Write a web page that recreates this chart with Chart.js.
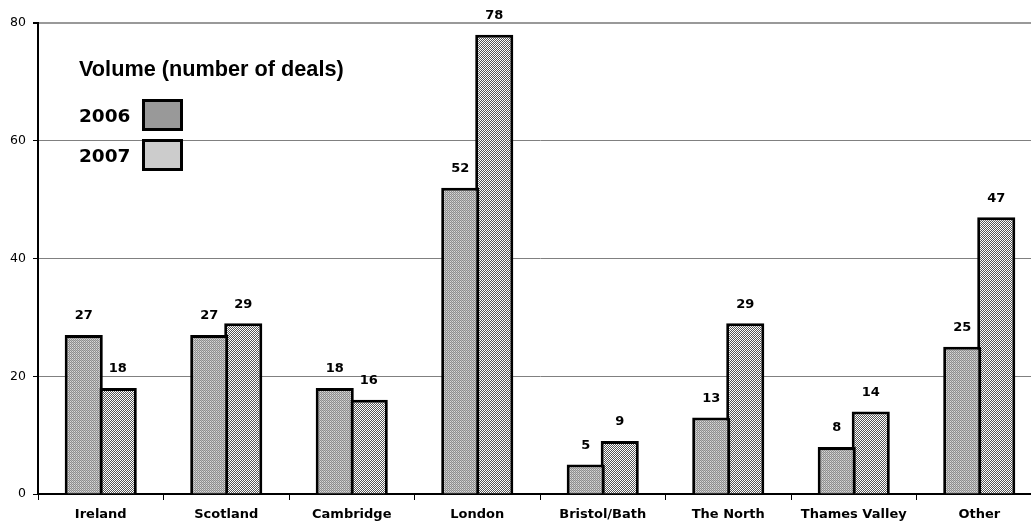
<!DOCTYPE html>
<html>
<head>
<meta charset="utf-8">
<script src="https://cdn.jsdelivr.net/npm/chart.js@4.4.0/dist/chart.umd.min.js"></script>
<style>
  html, body { margin: 0; padding: 0; background: #fff; overflow: hidden; }
  #wrap { position: relative; width: 1042px; height: 525px; }
  #legend { position: absolute; left: 79px; top: 52px; font-weight: bold; color: #000; }
  #legend .title { font-family: "Liberation Sans", Arial, sans-serif; font-size: 21.7px; white-space: nowrap; line-height: 34px; }
  #legend .row { position: absolute; left: 0; height: 32px; display: flex; align-items: center; font-family: "DejaVu Sans", Verdana, sans-serif; }
  #legend .row span { font-size: 18.5px; width: 63px; }
  #legend .sw { width: 35px; height: 26px; border: 3px solid #000; }
</style>
</head>
<body>
<div id="wrap">
  <canvas id="c" width="1042" height="525"></canvas>
  <div id="legend">
    <div class="title">Volume (number of deals)</div>
    <div class="row" style="top:47px"><span>2006</span><div class="sw" style="background:#999999"></div></div>
    <div class="row" style="top:87px"><span>2007</span><div class="sw" style="background:#cccccc"></div></div>
  </div>
</div>
<script>
const categories = ["Ireland", "Scotland", "Cambridge", "London", "Bristol/Bath", "The North", "Thames Valley", "Other"];
const deals2006 = [27, 27, 18, 52, 5, 13, 8, 25];
const deals2007 = [18, 29, 16, 78, 9, 29, 14, 47];
const yTicks = [0, 20, 40, 60, 80];

// fine grey dot texture
function dotPattern(ctx) {
  const t = document.createElement('canvas');
  t.width = 2; t.height = 2;
  const g = t.getContext('2d');
  g.fillStyle = '#dadada'; g.fillRect(0, 0, 2, 2);
  g.fillStyle = '#8e8e8e'; g.fillRect(0, 0, 1, 1); g.fillRect(1, 1, 1, 1);
  g.fillStyle = '#b8b8b8'; g.fillRect(1, 0, 1, 1);
  return ctx.createPattern(t, 'repeat');
}
// upward diagonal hatch
function hatchPattern(ctx) {
  const t = document.createElement('canvas');
  t.width = 4; t.height = 4;
  const g = t.getContext('2d');
  g.fillStyle = '#ffffff'; g.fillRect(0, 0, 4, 4);
  g.fillStyle = '#555555';
  for (let i = 0; i < 4; i++) { g.fillRect(3 - i, i, 1, 1); g.fillRect((5 - i) % 4, i, 1, 1); }
  return ctx.createPattern(t, 'repeat');
}

const canvas = document.getElementById('c');
const ctx = canvas.getContext('2d');

const valueLabels = {
  id: 'valueLabels',
  afterDatasetsDraw(chart) {
    const c = chart.ctx;
    c.save();
    c.font = 'bold 13px "DejaVu Sans", Verdana, sans-serif';
    c.fillStyle = '#000';
    c.textAlign = 'center';
    c.textBaseline = 'middle';
    chart.data.datasets.forEach((ds, i) => {
      chart.getDatasetMeta(i).data.forEach((bar, j) => {
        c.fillText(String(ds.data[j]), bar.x, bar.y - 19);
      });
    });
    c.restore();
  }
};

new Chart(ctx, {
  type: 'bar',
  data: {
    labels: categories,
    datasets: [
      { label: '2006', data: deals2006, backgroundColor: dotPattern(ctx), borderColor: '#000', borderWidth: 3, borderSkipped: 'bottom' },
      { label: '2007', data: deals2007, backgroundColor: hatchPattern(ctx), borderColor: '#000', borderWidth: 3, borderSkipped: 'bottom' }
    ]
  },
  options: {
    responsive: false,
    animation: false,
    events: [],
    layout: { padding: { top: 23, right: 0, left: 0, bottom: 0 } },
    // paired bars share their middle outline
    datasets: { bar: { categoryPercentage: 0.542, barPercentage: 1.12 } },
    plugins: { legend: { display: false }, tooltip: { enabled: false } },
    scales: {
      x: {
        grid: { display: true, drawOnChartArea: false, drawTicks: true, tickLength: 6, color: '#000', offset: true },
        border: { color: '#000', width: 2 },
        ticks: { color: '#000', font: { family: '"DejaVu Sans", Verdana, sans-serif', size: 13, weight: 'bold' }, padding: 7, maxRotation: 0, autoSkip: false },
        afterFit(s) { s.height = 31; }
      },
      y: {
        min: 0, max: 80,
        afterBuildTicks(s) { s.ticks = yTicks.map(v => ({ value: v })); },
        grid: {
          color: ctx => ctx.tick && ctx.tick.value === 80 ? '#999' : '#808080',
          lineWidth: ctx => ctx.tick && ctx.tick.value === 80 ? 2 : 1,
          tickColor: '#000', tickLength: 5, drawTicks: true
        },
        border: { color: '#000', width: 2 },
        ticks: { color: '#000', font: { family: '"DejaVu Sans", Verdana, sans-serif', size: 12.5 }, padding: 7 },
        afterFit(s) { s.width = 38; }
      }
    }
  },
  plugins: [valueLabels]
});
</script>
</body>
</html>
